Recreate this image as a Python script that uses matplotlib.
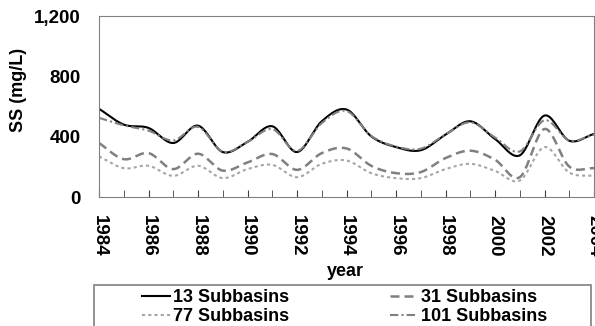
import numpy as np
import matplotlib
matplotlib.use('Agg')
import matplotlib.pyplot as plt
from matplotlib.patches import Rectangle
from matplotlib.ticker import FuncFormatter, MultipleLocator

plt.rcParams['font.family'] = ['Liberation Sans', 'DejaVu Sans']
plt.rcParams['font.weight'] = 'bold'

# 数据（从图中读取的年度值）
years = list(range(1984, 2005))
ss_13 = [585, 480, 458, 358, 473, 298, 365, 469, 298, 502, 580, 402, 331, 310,
         413, 502, 385, 276, 540, 373, 418]
ss_31 = [358, 251, 291, 185, 287, 175, 229, 285, 180, 291, 322, 207, 158, 165,
         258, 307, 247, 131, 451, 202, 191]
ss_77 = [269, 191, 207, 140, 207, 125, 185, 213, 131, 220, 242, 158, 125, 125,
         185, 220, 173, 109, 331, 162, 140]
ss_101 = [525, 475, 440, 375, 465, 300, 365, 450, 305, 490, 570, 405, 335, 320,
          415, 495, 395, 302, 509, 375, 415]
labels = ['13 Subbasins', '31 Subbasins', '77 Subbasins', '101 Subbasins']


def smooth_curve(x, y, n=20):
    """Catmull-Rom 平滑曲线（类似 Excel 的平滑线）"""
    x = np.asarray(x, dtype=float)
    y = np.asarray(y, dtype=float)
    px = np.concatenate([[2 * x[0] - x[1]], x, [2 * x[-1] - x[-2]]])
    py = np.concatenate([[2 * y[0] - y[1]], y, [2 * y[-1] - y[-2]]])
    xs, ys = [], []
    t = np.linspace(0, 1, n, endpoint=False)
    for i in range(1, len(px) - 2):
        for arr, out in ((px, xs), (py, ys)):
            p0, p1, p2, p3 = arr[i - 1], arr[i], arr[i + 1], arr[i + 2]
            out.extend(0.5 * ((2 * p1) + (-p0 + p2) * t
                              + (2 * p0 - 5 * p1 + 4 * p2 - p3) * t ** 2
                              + (-p0 + 3 * p1 - 3 * p2 + p3) * t ** 3))
    xs.append(x[-1])
    ys.append(y[-1])
    return np.array(xs), np.array(ys)


fig = plt.figure(figsize=(5.95, 3.26), dpi=100)
ax = fig.add_axes([99 / 595, 129 / 326, 495 / 595, 181 / 326])

styles = [
    dict(data=ss_13, color='black', lw=1.5, ls='-'),
    dict(data=ss_31, color='#808080', lw=1.8, ls=(0, (3.6, 2.0))),
    dict(data=ss_77, color='#a6a6a6', lw=1.5, ls=(0, (1.5, 1.5))),
    dict(data=ss_101, color='#808080', lw=1.5, ls=(0, (4, 1.5, 1, 1.5))),
]
handles = []
for s, lab in zip(styles, labels):
    sx, sy = smooth_curve(years, s['data'])
    h, = ax.plot(sx, sy, color=s['color'], lw=s['lw'], linestyle=s['ls'], label=lab)
    handles.append(h)

ax.set_xlim(1984, 2004)
ax.set_ylim(0, 1200)
ax.set_yticks([0, 400, 800, 1200])
ax.yaxis.set_major_formatter(FuncFormatter(lambda v, p: f'{int(v):,}'))
ax.xaxis.set_major_locator(MultipleLocator(2))
ax.xaxis.set_minor_locator(MultipleLocator(1))

for sp in ax.spines.values():
    sp.set_color('#808080')
ax.tick_params(axis='x', which='both', direction='in', length=5, color='#404040')
ax.tick_params(axis='x', which='major', labelsize=13.5, pad=13, labelrotation=270)
ax.tick_params(axis='y', length=0, labelsize=13.5, pad=13)
for lab in ax.get_xticklabels():
    lab.set_va('top')
    lab.set_ha('center')

ax.set_ylabel('SS (mg/L)', fontsize=13, fontweight='bold')
ax.yaxis.set_label_coords(-0.145, 0.59)
ax.set_xlabel('year', fontsize=13, fontweight='bold')
ax.xaxis.label.set_va('center')
ax.xaxis.set_label_coords(0.497, -0.41)

# 图例外框
fig.patches.append(Rectangle((94 / 595, -0.05), (591 - 94) / 595, 0.05 + (326 - 285) / 326,
                             transform=fig.transFigure, fill=False,
                             edgecolor='#808080', lw=1.2))
order = [handles[0], handles[2], handles[1], handles[3]]
fig.legend(order, [h.get_label() for h in order], ncol=2, frameon=False,
           loc='upper left', bbox_to_anchor=(142 / 595, 1 - 289 / 326),
           borderpad=0, borderaxespad=0, prop=dict(size=13, weight='bold'),
           handlelength=1.55, handletextpad=0.17, columnspacing=5.6,
           labelspacing=0.12)

fig.savefig('out.png', dpi=100)
